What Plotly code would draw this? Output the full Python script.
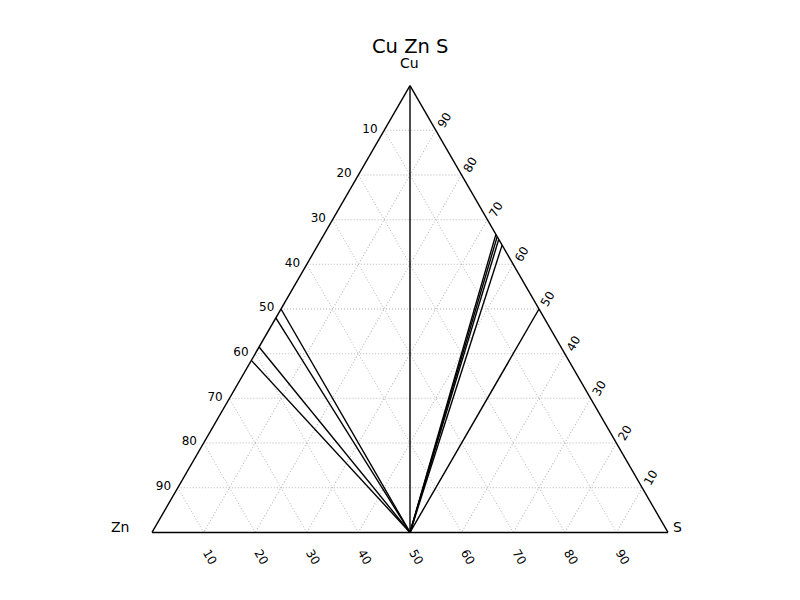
import plotly.graph_objects as go

# Tie-lines from ZnS (Cu 0, Zn 0.5, S 0.5) to phases on the edges
origin = {"Cu": 0.0, "Zn": 0.5, "S": 0.5}
cu_vertex = [1.0]                          # Cu pure
cu_zn_phases = [0.5, 0.48, 0.415, 0.385]   # Cu fraction on the Cu-Zn edge
cu_s_phases = [0.667, 0.662, 0.656, 0.643, 0.5]  # Cu fraction on the Cu-S edge

tick_vals = [0.1, 0.2, 0.3, 0.4, 0.5, 0.6, 0.7, 0.8, 0.9]
tick_text = [str(int(round(100 * (1 - v)))) for v in tick_vals]

endpoints = []
for cu in cu_vertex:
    endpoints.append((cu, 0.0, 0.0))
for cu in cu_zn_phases:
    endpoints.append((cu, 1 - cu, 0.0))
for cu in cu_s_phases:
    endpoints.append((cu, 0.0, 1 - cu))

fig = go.Figure()
for (a, b, c) in endpoints:
    fig.add_trace(go.Scatterternary(
        a=[origin["Cu"], a], b=[origin["Zn"], b], c=[origin["S"], c],
        mode="lines", line=dict(color="black", width=1.4),
        showlegend=False, hoverinfo="skip"))

font = "DejaVu Sans, sans-serif"
axis_common = dict(
    showline=True, linecolor="black", linewidth=1.4,
    showgrid=True, gridcolor="#b4b4b4", gridwidth=0.8, griddash="1px,2px",
    tickmode="array", tickvals=tick_vals, ticktext=tick_text,
    tickfont=dict(family=font, size=12, color="black"),
    ticks="outside", tickcolor="rgba(0,0,0,0)",
    title=dict(text=""), min=0,
)

fig.update_layout(
    width=800, height=600,
    paper_bgcolor="white", plot_bgcolor="white",
    margin=dict(l=0, r=0, t=0, b=0),
    font=dict(family=font, color="black"),
    ternary=dict(
        sum=1,
        bgcolor="white",
        domain=dict(x=[152 / 800, 668 / 800], y=[1 - 533 / 600, 1 - 85 / 600]),
        aaxis=dict(**axis_common, tickangle=0, ticklen=4),
        baxis=dict(**axis_common, tickangle=60, ticklen=8),
        caxis=dict(**axis_common, tickangle=-60, ticklen=1),
    ),
    annotations=[
        dict(text="Cu Zn S", x=410 / 800, y=1 - 46 / 600,
             font=dict(family=font, size=19.5, color="black")),
        dict(text="Cu", x=410 / 800, y=1 - 63 / 600,
             font=dict(family=font, size=14, color="black")),
        dict(text="Zn", x=120 / 800, y=1 - 527 / 600,
             font=dict(family=font, size=14, color="black")),
        dict(text="S", x=677 / 800, y=1 - 527 / 600,
             font=dict(family=font, size=14, color="black")),
    ],
)
fig.update_annotations(xref="paper", yref="paper", showarrow=False,
                       xanchor="center", yanchor="middle")

fig.write_html("out.html", config={"displayModeBar": False},
               post_script="document.body.style.margin='0';")
